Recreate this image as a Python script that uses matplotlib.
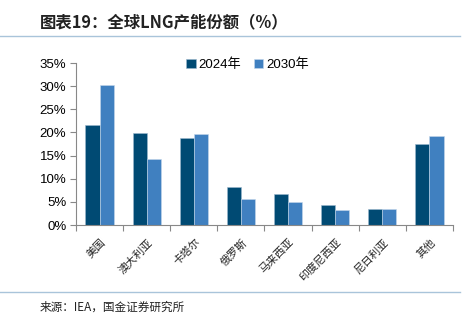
import matplotlib
matplotlib.use("Agg")
import matplotlib.pyplot as plt
import numpy as np
from matplotlib.lines import Line2D

plt.rcParams['font.family'] = ['Noto Sans CJK SC', 'DejaVu Sans']

categories = ["美国", "澳大利亚", "卡塔尔", "俄罗斯", "马来西亚", "印度尼西亚", "尼日利亚", "其他"]
values_2024 = [21.6, 19.8, 18.9, 8.3, 6.8, 4.4, 3.5, 17.5]
values_2030 = [30.3, 14.3, 19.7, 5.7, 5.0, 3.2, 3.5, 19.2]
series_names = ["2024年", "2030年"]
yticks = [0, 5, 10, 15, 20, 25, 30, 35]

W, H = 477, 324
fig = plt.figure(figsize=(W/100, H/100), dpi=100)
ax = fig.add_axes([76/W, 1-225/H, (453-76)/W, (225-63)/H])

x = np.arange(len(categories))
bw = 0.3
c1, c2 = "#004A73", "#4080C0"
ax.bar(x - bw/2, values_2024, bw, color=c1, label=series_names[0], edgecolor="#9DB8CF", linewidth=0.4)
ax.bar(x + bw/2, values_2030, bw, color=c2, label=series_names[1], edgecolor="#C5D8EA", linewidth=0.4)

ax.set_xlim(-0.5, len(categories) - 0.5)
ax.set_ylim(0, 35)
ax.set_yticks(yticks)
ax.set_yticklabels([f"{v}%" for v in yticks], fontsize=9.5, family=['Liberation Sans', 'DejaVu Sans'])
ax.set_xticks(np.arange(len(categories) + 1) - 0.5)
ax.set_xticklabels([])
ax.tick_params(axis='x', length=4, color="#888888", width=0.8, direction='out')
ax.tick_params(axis='y', length=4, color="#888888", width=0.8, direction='out', pad=3)
for i, c in enumerate(categories):
    ax.text(i + 0.02, -2.6, c, rotation=45, ha='right', va='top', rotation_mode='anchor',
            fontsize=7.8, color="#222222")
for s in ['top', 'right']:
    ax.spines[s].set_visible(False)
for s in ['left', 'bottom']:
    ax.spines[s].set_color("#888888")
    ax.spines[s].set_linewidth(0.8)

leg = ax.legend(loc='upper center', bbox_to_anchor=(0.455, 1.06), ncol=2, frameon=False,
                prop={'family': ['Liberation Sans', 'Noto Sans CJK SC'], 'size': 9.5},
                handlelength=0.7, handleheight=0.7, handletextpad=0.2,
                columnspacing=1.0, borderaxespad=0)

fig.text(40/W, 1-22/H, "图表19：全球LNG产能份额（%）", fontsize=11.8, fontweight='bold',
         ha='left', va='center', color="#222222")
fig.add_artist(Line2D([0, 460/W], [1-36/H, 1-36/H], color="#A9C4DA", lw=1.0))
fig.add_artist(Line2D([0, 460/W], [1-292/H, 1-292/H], color="#A9C4DA", lw=1.0))
fig.text(40/W, 1-307/H, "来源：IEA，国金证券研究所", fontsize=8.4, ha='left', va='center', color="#222222")

fig.savefig("out.png", dpi=100)
